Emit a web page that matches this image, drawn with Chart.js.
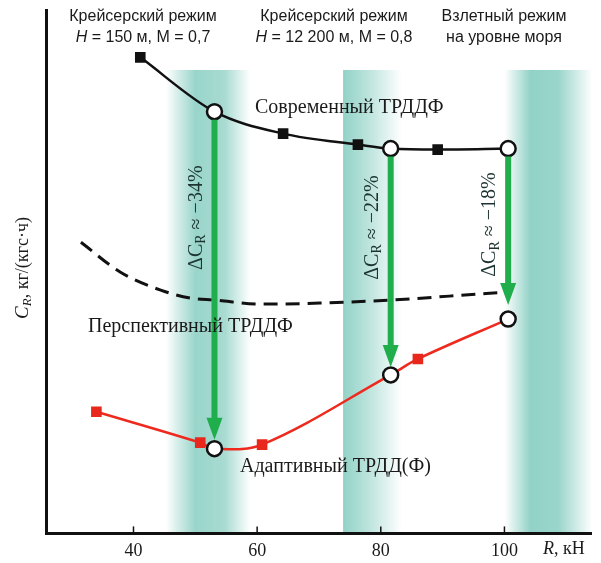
<!DOCTYPE html>
<html>
<head>
<meta charset="utf-8">
<script src="https://cdn.jsdelivr.net/npm/chart.js@4.4.1/dist/chart.umd.min.js"></script>
<style>
 html, body { margin: 0; background: #fff; }
 #wrap { width: 601px; height: 563px; }
</style>
</head>
<body>
<div id="wrap"><canvas id="chart"></canvas></div>
<script>
// тяга R, кН и удельный расход C_R (условные единицы)
const modernX = [41.1, 53.1, 64.2, 76.3, 81.6, 89.2, 100.6];
const modernY = [95.5, 84.6, 80.2, 78, 77.2, 77, 77.2];
const modernStyle = ['rect', 'circle', 'rect', 'rect', 'circle', 'rect', 'circle'];

const futureX = [31.5, 37.9, 44.4, 49.2, 53.2, 60.5, 70.2, 81.5, 91.1, 100];
const futureY = [58.4, 52.4, 48.8, 47.2, 46.8, 46, 46.2, 46.8, 47.6, 48.4];

const adaptiveX = [34.0, 50.8, 53.1, 60.8, 81.6, 86.0, 100.6];
const adaptiveY = [24.4, 18.2, 17, 17.8, 31.8, 35, 43];
const adaptiveStyle = ['rect', 'rect', 'circle', 'rect', 'circle', 'rect', 'circle'];

const arrowX = [53.1, 81.6, 100.6];
const arrowFrom = [84.6, 77.2, 77.2];
const arrowTo = [18.8, 33.4, 45.8];
const arrowText = ['\u2212' + '34%', '\u2212' + '22%', '\u2212' + '18%'];

const xTicks = [40, 60, 80, 100];

// зоны режимов (R, кН)
const bands = [[45.2, 58.9], [73.9, 83.4], [100, 114.2]];

const SERIF = '"Liberation Serif", "DejaVu Serif", serif';
const NARROW = '"Liberation Sans Narrow", "Liberation Sans", sans-serif';

function pts(xs, ys) {
 return xs.map((x, i) => ({ x: x, y: ys[i] }));
}

function rich(ctx, parts, x, y, align) {
 let w = 0;
 parts.forEach(p => { ctx.font = p.f; w += ctx.measureText(p.t).width; });
 let cx = align === 'center' ? x - w / 2 : x;
 ctx.textAlign = 'left';
 ctx.textBaseline = 'middle';
 parts.forEach(p => {
  ctx.font = p.f;
  ctx.fillText(p.t, cx, y + (p.dy || 0));
  cx += ctx.measureText(p.t).width;
 });
}

const bandPlugin = {
 id: 'bands',
 beforeDraw(chart) {
  const { ctx, chartArea, scales } = chart;
  const x = scales.x;
  ctx.save();
  bands.forEach((b, i) => {
   const x0 = x.getPixelForValue(b[0]);
   const x1 = Math.min(x.getPixelForValue(b[1]), chartArea.right);
   const g = ctx.createLinearGradient(x0, 0, x1, 0);
   const c = 'rgba(110,195,180,';
   if (i === 0) {
    g.addColorStop(0, c + '0)');
    g.addColorStop(0.35, c + '0.7)');
    g.addColorStop(0.7, c + '0.6)');
    g.addColorStop(1, c + '0)');
   } else if (i === 1) {
    g.addColorStop(0, c + '0.75)');
    g.addColorStop(0.45, c + '0.45)');
    g.addColorStop(1, c + '0)');
   } else {
    g.addColorStop(0, c + '0)');
    g.addColorStop(0.3, c + '0.75)');
    g.addColorStop(0.62, c + '0.7)');
    g.addColorStop(1, c + '0.03)');
   }
   ctx.fillStyle = g;
   ctx.fillRect(x0, chartArea.top + 60, x1 - x0, chartArea.bottom - chartArea.top - 60);
  });
  ctx.restore();
 }
};

const annotPlugin = {
 id: 'annot',
 afterDatasetsDraw(chart) {
  const { ctx, scales } = chart;
  const x = scales.x, y = scales.y;
  ctx.save();
  arrowX.forEach((v, i) => {
   const px = x.getPixelForValue(v);
   const y0 = y.getPixelForValue(arrowFrom[i]) + 8;
   const y1 = y.getPixelForValue(arrowTo[i]);
   ctx.strokeStyle = '#1fae4b';
   ctx.fillStyle = '#1fae4b';
   ctx.lineWidth = 6;
   ctx.beginPath();
   ctx.moveTo(px, y0);
   ctx.lineTo(px, y1 - 18);
   ctx.stroke();
   ctx.beginPath();
   ctx.moveTo(px - 8, y1 - 22);
   ctx.lineTo(px + 8, y1 - 22);
   ctx.lineTo(px, y1);
   ctx.closePath();
   ctx.fill();
   // подпись ΔC_R
   ctx.save();
   ctx.translate(px - 18, y.getPixelForValue(arrowFrom[i]) + [106, 79, 76][i]);
   ctx.rotate(-Math.PI / 2);
   ctx.fillStyle = '#1c3330';
   rich(ctx, [
    { t: '\u0394C', f: '20px ' + SERIF },
    { t: 'R', f: '14px ' + SERIF, dy: 5 },
    { t: ' \u2248 ' + arrowText[i], f: '20px ' + SERIF }
   ], 0, 0, 'center');
   ctx.restore();
  });
  ctx.restore();
 },
 afterDraw(chart) {
  const { ctx, scales, chartArea } = chart;
  const x = scales.x;
  ctx.save();
  // внутренние засечки оси X
  ctx.strokeStyle = '#111';
  ctx.lineWidth = 1.5;
  xTicks.forEach(v => {
   const px = x.getPixelForValue(v);
   ctx.beginPath();
   ctx.moveTo(px, chartArea.bottom);
   ctx.lineTo(px, chartArea.bottom - 7);
   ctx.stroke();
  });
  ctx.fillStyle = '#1a1a1a';
  // заголовки режимов
  const h1 = '16px ' + NARROW, h1i = 'italic 16px ' + NARROW;
  rich(ctx, [{ t: 'Крейсерский режим', f: h1 }], 143, 17, 'center');
  rich(ctx, [{ t: 'H', f: h1i }, { t: ' = 150 м, М = 0,7', f: h1 }], 143, 38, 'center');
  rich(ctx, [{ t: 'Крейсерский режим', f: h1 }], 334, 17, 'center');
  rich(ctx, [{ t: 'H', f: h1i }, { t: ' = 12 200 м, М = 0,8', f: h1 }], 334, 38, 'center');
  rich(ctx, [{ t: 'Взлетный режим', f: h1 }], 504, 17, 'center');
  rich(ctx, [{ t: 'на уровне моря', f: h1 }], 504, 38, 'center');
  // подписи кривых
  const lf = '20px ' + SERIF;
  rich(ctx, [{ t: 'Современный ТРДДФ', f: lf }], 255, 108, 'left');
  rich(ctx, [{ t: 'Перспективный ТРДДФ', f: lf }], 88, 327, 'left');
  rich(ctx, [{ t: 'Адаптивный ТРДД(Ф)', f: lf }], 240, 467, 'left');
  // подпись оси X
  rich(ctx, [{ t: 'R', f: 'italic 18px ' + SERIF }, { t: ', кН', f: '18px ' + SERIF }], 543, 549, 'left');
  // подпись оси Y
  ctx.save();
  ctx.translate(23, 268);
  ctx.rotate(-Math.PI / 2);
  rich(ctx, [
   { t: 'C', f: 'italic 19px ' + SERIF },
   { t: 'R', f: 'italic 13px ' + SERIF, dy: 5 },
   { t: ', кг/(кгс\u00b7ч)', f: '18px ' + SERIF }
  ], 0, 0, 'center');
  ctx.restore();
  ctx.restore();
 }
};

new Chart(document.getElementById('chart').getContext('2d'), {
 type: 'scatter',
 data: {
  datasets: [
   {
    data: pts(futureX, futureY),
    showLine: true,
    borderColor: '#111',
    borderWidth: 3,
    borderDash: [14, 8],
    pointRadius: 0,
    tension: 0.4,
    cubicInterpolationMode: 'monotone'
   },
   {
    data: pts(modernX, modernY),
    showLine: true,
    borderColor: '#111',
    borderWidth: 2.5,
    tension: 0.4,
    cubicInterpolationMode: 'monotone',
    pointStyle: modernStyle,
    pointRadius: 7.5,
    pointBackgroundColor: modernStyle.map(s => s === 'rect' ? '#111' : '#fff'),
    pointBorderColor: '#111',
    pointBorderWidth: modernStyle.map(s => s === 'rect' ? 0 : 2.5)
   },
   {
    data: pts(adaptiveX, adaptiveY),
    showLine: true,
    borderColor: '#ee2a1e',
    borderWidth: 2.5,
    tension: 0.35,
    pointStyle: adaptiveStyle,
    pointRadius: 7.5,
    pointBackgroundColor: adaptiveStyle.map(s => s === 'rect' ? '#e8281c' : '#fff'),
    pointBorderColor: adaptiveStyle.map(s => s === 'rect' ? '#e8281c' : '#111'),
    pointBorderWidth: adaptiveStyle.map(s => s === 'rect' ? 0 : 2.5)
   }
  ]
 },
 options: {
  responsive: true,
  maintainAspectRatio: false,
  animation: false,
  layout: { padding: { left: 46, top: 5, right: 8, bottom: -6 } },
  plugins: { legend: { display: false }, tooltip: { enabled: false } },
  scales: {
   x: {
    type: 'linear',
    min: 25.85,
    max: 114,
    afterBuildTicks: s => { s.ticks = xTicks.map(v => ({ value: v })); },
    grid: { display: false, drawTicks: false },
    border: { color: '#111', width: 3 },
    ticks: { color: '#1a1a1a', font: { family: SERIF, size: 18 }, padding: 7 }
   },
   y: {
    type: 'linear',
    min: 0,
    max: 105,
    grid: { display: false, drawTicks: false },
    border: { color: '#111', width: 3 },
    ticks: { display: false }
   }
  }
 },
 plugins: [bandPlugin, annotPlugin]
});
</script>
</body>
</html>
